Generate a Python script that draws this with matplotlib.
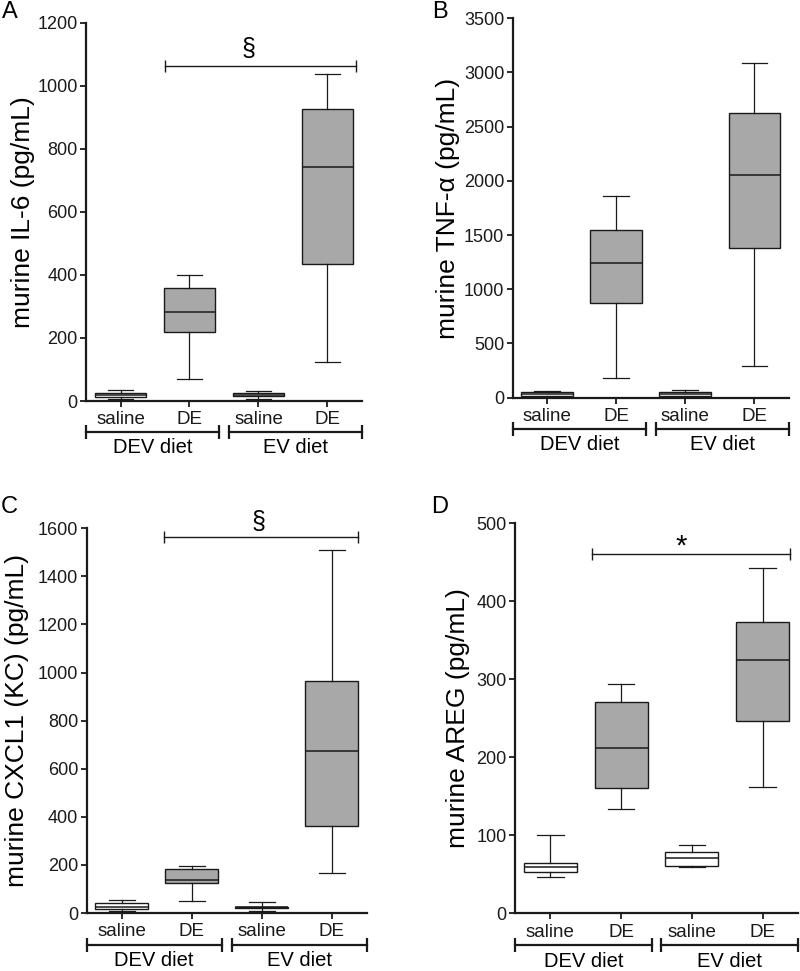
import matplotlib.pyplot as plt

plt.rcParams['font.family'] = ['Liberation Sans', 'DejaVu Sans']

groups = ["saline", "DE", "saline", "DE"]
diets = ["DEV diet", "EV diet"]
fills = ["white", "#a8a8a8", "white", "#a8a8a8"]

# values: lower whisker, Q1, median, Q3, upper whisker
il6_lo = [7, 70, 6, 125]
il6_q1 = [14, 218, 15, 434]
il6_med = [20, 283, 20, 741]
il6_q3 = [26, 360, 24, 927]
il6_hi = [35, 400, 31, 1037]

tnf_lo = [5, 185, 5, 295]
tnf_q1 = [12, 876, 12, 1378]
tnf_med = [35, 1240, 30, 2057]
tnf_q3 = [55, 1547, 48, 2624]
tnf_hi = [62, 1861, 71, 3085]

kc_lo = [8, 51, 8, 168]
kc_q1 = [15, 125, 20, 363]
kc_med = [26, 137, 24, 674]
kc_q3 = [40, 183, 27, 965]
kc_hi = [55, 194, 46, 1508]

areg_lo = [46, 134, 59, 162]
areg_q1 = [53, 161, 61, 247]
areg_med = [60, 212, 71, 325]
areg_q3 = [65, 271, 78, 373]
areg_hi = [100, 294, 88, 443]

W, H = 800, 971
ink = "#1a1a1a"

panels = [
    dict(letter="A", letter_xy=(10, 12), rect=(86, 22.7, 362, 401),
         ylabel="murine IL-6 (pg/mL)", label_x=-0.228, ymax=1200, step=200,
         stats=(il6_lo, il6_q1, il6_med, il6_q3, il6_hi),
         sig=(1.65, 4.42, 1063, "§", 2.85, 1118, 18)),
    dict(letter="B", letter_xy=(440, 12), rect=(512.7, 18.3, 789, 397.7),
         ylabel="murine TNF-α (pg/mL)", label_x=-0.234, ymax=3500, step=500,
         stats=(tnf_lo, tnf_q1, tnf_med, tnf_q3, tnf_hi), sig=None),
    dict(letter="C", letter_xy=(9, 507), rect=(86.7, 528.3, 366.7, 913),
         ylabel="murine CXCL1 (KC) (pg/mL)", label_x=-0.249, ymax=1600, step=200,
         stats=(kc_lo, kc_q1, kc_med, kc_q3, kc_hi),
         sig=(1.6, 4.37, 1565, "§", 2.95, 1628, 18)),
    dict(letter="D", letter_xy=(440, 507), rect=(515, 523.3, 798, 913.3),
         ylabel="murine AREG (pg/mL)", label_x=-0.201, ymax=500, step=100,
         stats=(areg_lo, areg_q1, areg_med, areg_q3, areg_hi),
         sig=(1.59, 4.38, 460, "*", 2.85, 470, 21)),
]

fig = plt.figure(figsize=(W / 100, H / 100), dpi=100)

for p in panels:
    x0, y0, x1, y1 = p["rect"]
    ax = fig.add_axes([x0 / W, 1 - y1 / H, (x1 - x0) / W, (y1 - y0) / H])

    lo, q1, med, q3, hi = p["stats"]
    stats = [dict(whislo=a, q1=b, med=c, q3=d, whishi=e, fliers=[])
             for a, b, c, d, e in zip(lo, q1, med, q3, hi)]
    bp = ax.bxp(stats, positions=[1, 2, 3, 4], widths=0.75, capwidths=0.375,
                patch_artist=True, showfliers=False,
                boxprops=dict(edgecolor=ink, linewidth=1.0),
                medianprops=dict(color=ink, linewidth=1.1),
                whiskerprops=dict(color=ink, linewidth=0.9),
                capprops=dict(color=ink, linewidth=0.9))
    for box, c in zip(bp["boxes"], fills):
        box.set_facecolor(c)

    ax.set_xlim(0.5, 4.5)
    ax.set_ylim(0, p["ymax"])
    ax.set_yticks(range(0, p["ymax"] + 1, p["step"]))
    ax.set_xticks([1, 2, 3, 4])
    ax.set_xticklabels(groups, fontsize=13.5)
    ax.tick_params(axis="y", labelsize=13, length=4.5, width=1.3, pad=1.5, colors=ink)
    ax.tick_params(axis="x", length=4.5, width=1.3, pad=3, colors=ink)
    for s in ["top", "right"]:
        ax.spines[s].set_visible(False)
    for s in ["left", "bottom"]:
        ax.spines[s].set_linewidth(1.6)
        ax.spines[s].set_color(ink)

    ax.text(p["label_x"], 0.5, p["ylabel"], transform=ax.transAxes, rotation=90,
            ha="center", va="center", fontsize=19)

    # diet brackets under the axis
    trans = ax.get_xaxis_transform()
    for (a, b), name in zip([(0.5, 2.43), (2.57, 4.5)], diets):
        ax.plot([a, b], [-0.082, -0.082], transform=trans, clip_on=False,
                color=ink, lw=1.6, marker="|", markevery=[0, 1], ms=10, mew=1.6)
        ax.text((a + b) / 2, -0.124, name, transform=trans, ha="center",
                va="center", fontsize=14.5)

    if p["sig"]:
        a, b, y, sym, sx, sy, fs = p["sig"]
        ax.plot([a, b], [y, y], clip_on=False, color=ink, lw=1.0,
                marker="|", ms=9, mew=1.0)
        ax.text(sx, sy, sym, ha="center", va="center", fontsize=fs, clip_on=False)

    lx, ly = p["letter_xy"]
    fig.text(lx / W, 1 - ly / H, p["letter"], ha="center", va="center", fontsize=17)

fig.savefig("out.png", dpi=100)
